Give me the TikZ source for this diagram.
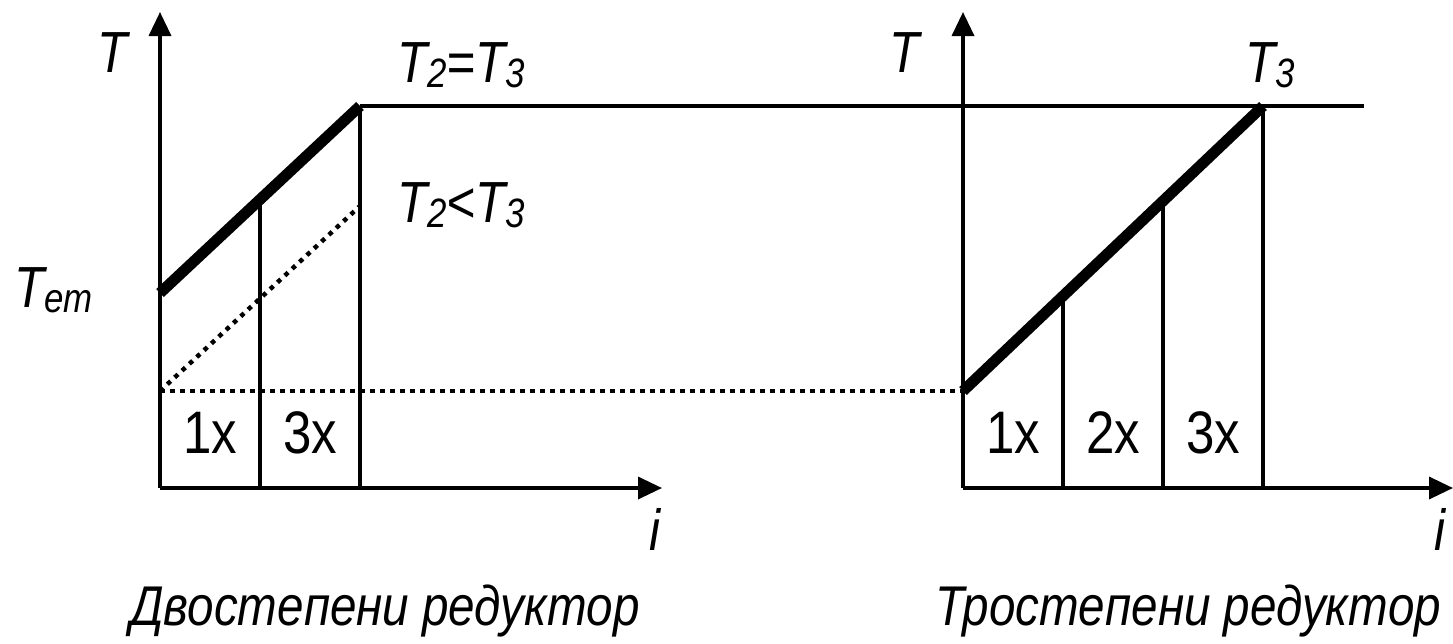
\documentclass[tikz,border=0pt]{standalone}
\usepackage{fontspec}
\setmainfont{Liberation Sans}[FakeStretch=0.85]
\usetikzlibrary{arrows.meta}
\newcommand{\mysubs}[1]{\raisebox{-5pt}{\fontsize{41}{41}\selectfont #1}}
\begin{document}
\begin{tikzpicture}[x=1pt,y=-1pt,
  axisline/.style={line width=3.5pt,-{Triangle[length=24pt,width=22pt]}},
  thinline/.style={line width=3.5pt},
  boldline/.style={line width=11pt},
  dotline/.style={line width=4.5pt,dash pattern=on 4.5pt off 5.5pt},
  lbl/.style={inner sep=0pt,font=\fontsize{58}{60}\selectfont\itshape},
  gear/.style={inner sep=0pt,font=\fontsize{60}{62}\selectfont},
  captext/.style={inner sep=0pt,font=\fontsize{56}{58}\selectfont\itshape}]
\useasboundingbox (0,0) rectangle (1453,643);
% left diagram coordinates
\coordinate (LO) at (160,488);
\coordinate (LYtop) at (160,12);
\coordinate (LXend) at (662,488);
\coordinate (LA) at (160,293);
\coordinate (LB) at (360,106);
\coordinate (LM) at (260,199.5);
\coordinate (LD0) at (160,391);
\coordinate (LD1) at (360,206);
\coordinate (LB1) at (260,488);
\coordinate (LB2) at (360,488);
% right diagram coordinates
\coordinate (RO) at (963,488);
\coordinate (RYtop) at (963,12);
\coordinate (RXend) at (1453,488);
\coordinate (RA) at (963,391);
\coordinate (RB) at (1263,106);
\coordinate (RM1) at (1063,296);
\coordinate (RM2) at (1163,201);
\coordinate (RB1) at (1063,488);
\coordinate (RB2) at (1163,488);
\coordinate (RB3) at (1263,488);
\coordinate (Hend) at (1364,106);
% dotted lines
\draw[dotline] (LD0) -- (LD1);
\draw[dotline] (LD0) -- (RA);
% vertical lines
\draw[thinline] (LB1) -- (LM);
\draw[thinline] (LB2) -- (LB);
\draw[thinline] (RB1) -- (RM1);
\draw[thinline] (RB2) -- (RM2);
\draw[thinline] (RB3) -- (RB);
% horizontal limit line
\draw[thinline] (LB) -- (Hend);
% bold lines
\draw[boldline] (LA) -- (LB);
\draw[boldline] (RA) -- (RB);
% axes
\draw[axisline] (LO) -- (LYtop);
\draw[axisline] (LO) -- (LXend);
\draw[axisline] (RO) -- (RYtop);
\draw[axisline] (RO) -- (RXend);
% labels
\node[lbl,anchor=base] (lT) at (113,72) {T};
\node[lbl,anchor=base west] (lT23eq) at (397,82) {T\mysubs{2}=T\mysubs{3}};
\node[lbl,anchor=base west] (lT23lt) at (397,222) {T\mysubs{2}<T\mysubs{3}};
\node[lbl,anchor=base west] (lTem) at (14,307) {T\mysubs{em}};
\node[lbl,anchor=base] (li) at (655,550) {i};
\node[gear] (l1x) at (210,433) {1x};
\node[gear] (l3x) at (310,433) {3x};
\node[captext,anchor=base] (lcap) at (385,625) {Двостепени редуктор};
\node[lbl,anchor=base] (rT) at (905,72) {T};
\node[lbl,anchor=base west] (rT3) at (1245,82) {T\mysubs{3}};
\node[lbl,anchor=base] (ri) at (1440,550) {i};
\node[gear] (r1x) at (1013,433) {1x};
\node[gear] (r2x) at (1113,433) {2x};
\node[gear] (r3x) at (1213,433) {3x};
\node[captext,anchor=base] (rcap) at (1188,625) {Тростепени редуктор};
\end{tikzpicture}
\end{document}
